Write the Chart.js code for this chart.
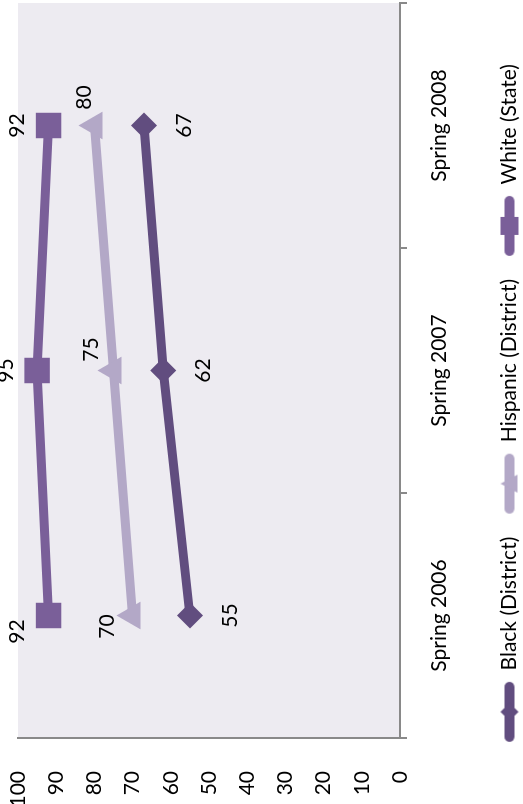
<!DOCTYPE html>
<html>
<head>
<meta charset="utf-8">
<script src="https://cdn.jsdelivr.net/npm/chart.js@4"></script>
<style>
  html, body { margin: 0; padding: 0; background: #fff; overflow: hidden; }
  /* chart is drawn landscape, then turned a quarter to the left */
  #wrap { position: absolute; left: 0; top: 804px; width: 804px; height: 523px;
          transform-origin: 0 0; transform: rotate(-90deg); }
</style>
</head>
<body>
<div id="wrap"><canvas id="chart" width="804" height="523"></canvas></div>
<script>
// Data
const categories = ["Spring 2006", "Spring 2007", "Spring 2008"];
const blackDistrict = [55, 62, 67];
const hispanicDistrict = [70, 75, 80];
const whiteState = [92, 95, 92];
const valueMin = 0;
const valueMax = 100;
const valueStep = 10;

const FONT = "Lato";
const GREY = "#898989";

// legend swatch: thick line with the marker in the middle
function legendSwatch(color, shape) {
  const c = document.createElement("canvas");
  c.width = 62; c.height = 20;
  const g = c.getContext("2d");
  g.strokeStyle = color; g.fillStyle = color;
  g.lineWidth = 10; g.lineCap = "round";
  g.beginPath(); g.moveTo(6, 10); g.lineTo(56, 10); g.stroke();
  g.beginPath();
  if (shape === "rect") {
    g.rect(22, 1, 18, 18);
  } else if (shape === "triangle") {
    g.moveTo(31, 1); g.lineTo(40, 18); g.lineTo(22, 18); g.closePath();
  } else {
    g.moveTo(31, 1); g.lineTo(40, 10); g.lineTo(31, 19); g.lineTo(22, 10); g.closePath();
  }
  g.fill();
  return c;
}

// value labels next to each point
const pointLabels = {
  id: "pointLabels",
  afterDatasetsDraw(chart) {
    const ctx = chart.ctx;
    ctx.save();
    ctx.font = "21px " + FONT;
    ctx.fillStyle = "#000";
    ctx.textAlign = "center";
    ctx.textBaseline = "middle";
    chart.data.datasets.forEach((ds, i) => {
      chart.getDatasetMeta(i).data.forEach((pt, j) => {
        ctx.fillText(ds.data[j], pt.x + ds.labelDx[j], pt.y + ds.labelDy[j]);
      });
    });
    ctx.restore();
  }
};

const plotBackground = {
  id: "plotBackground",
  beforeDraw(chart) {
    const a = chart.chartArea;
    chart.ctx.save();
    chart.ctx.fillStyle = "#EDEBF1";
    chart.ctx.fillRect(a.left, a.top, a.right - a.left, a.bottom - a.top);
    chart.ctx.restore();
  }
};

const datasets = [
  {
    label: "Black (District)", data: blackDistrict,
    borderColor: "#614D7F", backgroundColor: "#614D7F",
    pointStyle: "rectRot", pointRadius: 13,
    swatch: legendSwatch("#614D7F", "rectRot"),
    labelDx: [0, 0, 0], labelDy: [40, 40, 40]
  },
  {
    label: "Hispanic (District)", data: hispanicDistrict,
    borderColor: "#B3A8C7", backgroundColor: "#B3A8C7",
    pointStyle: "triangle", pointRadius: 16,
    swatch: legendSwatch("#B3A8C7", "triangle"),
    labelDx: [-11, 21, 28], labelDy: [-25, -22, -10]
  },
  {
    label: "White (State)", data: whiteState,
    borderColor: "#7A5F99", backgroundColor: "#7A5F99",
    pointStyle: "rect", pointRadius: 18,
    swatch: legendSwatch("#7A5F99", "rect"),
    labelDx: [-16, 0, 0], labelDy: [-31, -31, -31]
  }
];
datasets.forEach(d => {
  d.borderWidth = 9;
  d.pointBorderWidth = 0;
  d.pointHoverRadius = d.pointRadius;
  d.tension = 0;
});

new Chart(document.getElementById("chart"), {
  type: "line",
  data: { labels: categories, datasets: datasets },
  plugins: [plotBackground, pointLabels],
  options: {
    responsive: false,
    animation: false,
    layout: { autoPadding: false, padding: { top: 18, right: 3, bottom: -7, left: 0 } },
    scales: {
      x: {
        offset: true,
        grid: { display: true, drawOnChartArea: false, offset: true,
                tickLength: 7, color: GREY, lineWidth: 2 },
        border: { color: GREY, width: 2 },
        ticks: { color: "#000", font: { family: FONT, size: 21 }, padding: 20 },
        afterFit(scale) {
          scale.height = 77;
          scale.paddingLeft = 0; scale.paddingRight = 0;
        }
      },
      y: {
        min: valueMin, max: valueMax,
        grid: { display: false },
        border: { display: true, color: GREY, width: 2 },
        ticks: { stepSize: valueStep, color: "#000",
                 font: { family: FONT, size: 21 }, padding: 25 },
        afterFit(scale) {
          scale.width = 66;
          scale.paddingTop = 0; scale.paddingBottom = 0;
        }
      }
    },
    plugins: {
      tooltip: { enabled: false },
      legend: {
        position: "bottom",
        labels: {
          usePointStyle: true,
          pointStyleWidth: 62,
          padding: 22,
          color: "#000",
          font: { family: FONT, size: 21 },
          generateLabels(chart) {
            const items = Chart.defaults.plugins.legend.labels.generateLabels(chart);
            items.forEach(it => { it.pointStyle = chart.data.datasets[it.datasetIndex].swatch; });
            return items;
          }
        }
      }
    }
  }
});
</script>
</body>
</html>
